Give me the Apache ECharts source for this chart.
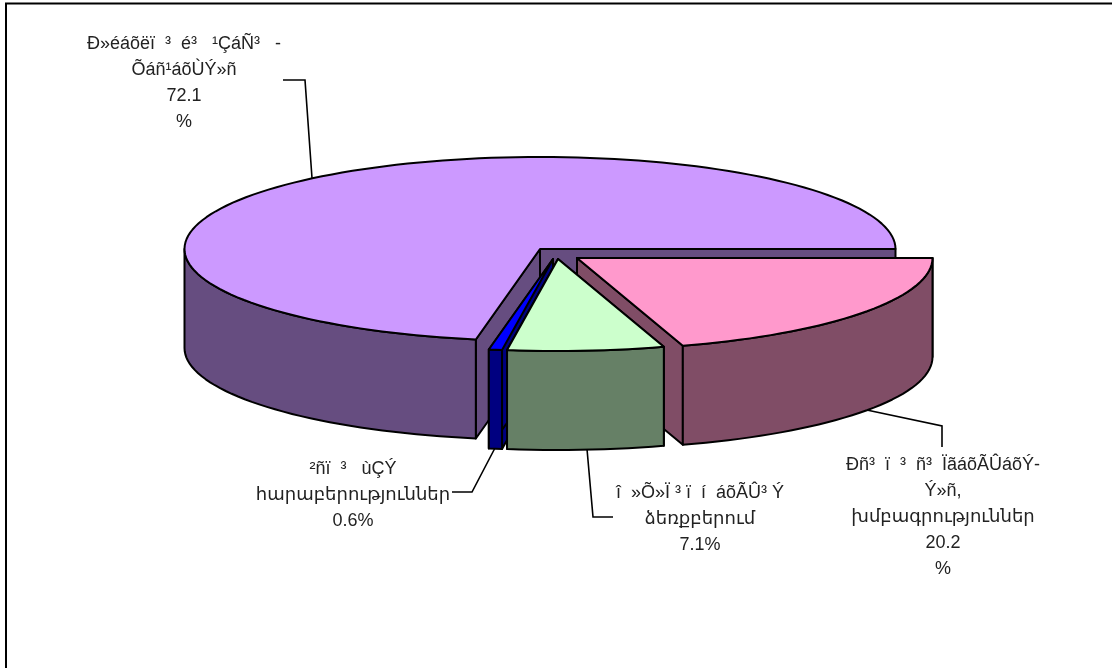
<!DOCTYPE html>
<html>
<head>
<meta charset="utf-8">
<title>pie</title>
<style>
html, body { margin: 0; padding: 0; background: #fff; }
#main { width: 1112px; height: 668px; }
</style>
<script src="https://cdn.jsdelivr.net/npm/echarts@6/dist/echarts.min.js"></script>
</head>
<body>
<div id="main"></div>
<script>
// data, slices run clockwise from the first angle
var sliceNames = ['Ð»éáõëï  ³  é³   ¹ÇáÑ³   -\nÕáñ¹áõÙÝ»ñ', 'Ðñ³  ï  ³  ñ³  ÏãáõÃÛáõÝ-\nÝ»ñ,\nխմբագրություններ', 'î  »Õ»Ï ³ ï  í  áõÃÛ³ Ý\nձեռքբերում', '²ñï  ³   ùÇÝ\nհարաբերություններ'];
var sliceValues = [72.1, 20.2, 7.1, 0.6];
var valueLabels = ['72.1\n%', '20.2\n%', '7.1%', '0.6%'];
var topColors = ['#CC99FF', '#FF99CC', '#CCFFCC', '#0000FF'];
var wallColors = ['#664D80', '#804D66', '#668066', '#000080'];
// pixel offset of each exploded slice from the pie centre
var explodeX = [0, 37, 18, 13];
var explodeY = [0, 9, 10, 10];
// back to front, the thin blue slice goes under the green one
var drawOrder = [0, 1, 3, 2];

var FONT = '"Liberation Sans", "DejaVu Sans", Arial, sans-serif';
var CX = 540, CY = 249, RX = 355.5, RY = 92, DEPTH = 99;
var FIRST_ANGLE = -259.6;

var total = sliceValues.reduce(function(a, b) { return a + b; }, 0);

function pt(cx, cy, deg, dy) {
	var r = deg * Math.PI / 180;
	return [cx + RX * Math.cos(r), cy + RY * Math.sin(r) + (dy || 0)];
}

function arc(cx, cy, a0, a1, dy) {
	var pts = [], n = Math.max(2, Math.ceil(Math.abs(a1 - a0) / 2));
	for (var i = 0; i <= n; i++) {
		pts.push(pt(cx, cy, a0 + (a1 - a0) * i / n, dy));
	}
	return pts;
}

function face(points, fill) {
	return {
		type: 'polygon',
		shape: { points: points },
		style: { fill: fill, stroke: '#000', lineWidth: 2, lineJoin: 'round' }
	};
}

function renderSlice(params, api) {
	var i = api.value(1);
	var a0 = FIRST_ANGLE, k;
	for (k = 0; k < i; k++) a0 += sliceValues[k] / total * 360;
	var a1 = a0 + api.value(0) / total * 360;
	var cx = CX + explodeX[i], cy = CY + explodeY[i];
	var wall = wallColors[i], children = [];

	// the two cut faces
	[a0, a1].forEach(function(a) {
		var p = pt(cx, cy, a);
		children.push(face([[cx, cy], p, [p[0], p[1] + DEPTH], [cx, cy + DEPTH]], wall));
	});
	// outer wall, only the part that faces the viewer
	var from = Math.max(a0, Math.floor(a1 / 360) * 360);
	var to = Math.min(a1, from + 180);
	if (i === 0) { from = a0; to = -180; }
	if (to > from) {
		children.push(face(arc(cx, cy, from, to).concat(arc(cx, cy, to, from, DEPTH)), wall));
	}
	// top surface
	children.push(face([[cx, cy]].concat(arc(cx, cy, a0, a1)), topColors[i]));
	return { type: 'group', children: children };
}

// leader lines and label places
var leaderLines = [
	[[283, 80], [305, 80], [312, 178]],
	[[862, 409], [942, 426], [942, 447]],
	[[587, 449], [593, 517], [613, 517]],
	[[495, 448], [472, 492], [452, 492]]
];
var labelPos = [[184, 31], [943, 452], [700, 480], [353, 456]];

var graphics = [{
	type: 'rect',
	shape: { x: 6, y: 3.5, width: 1200, height: 800 },
	style: { fill: 'none', stroke: '#000', lineWidth: 2 }
}];
leaderLines.forEach(function(l) {
	graphics.push({
		type: 'polyline',
		shape: { points: l },
		style: { fill: 'none', stroke: '#000', lineWidth: 1.6 }
	});
});
sliceNames.forEach(function(name, i) {
	graphics.push({
		type: 'text',
		x: labelPos[i][0],
		y: labelPos[i][1],
		style: {
			text: name + '\n' + valueLabels[i],
			fill: '#222',
			font: '18px ' + FONT,
			lineHeight: 26,
			align: 'center'
		}
	});
});

var myChart = echarts.init(document.getElementById('main'), null, { renderer: 'canvas' });
myChart.setOption({
	animation: false,
	backgroundColor: '#fff',
	series: [{
		type: 'custom',
		coordinateSystem: 'none',
		renderItem: renderSlice,
		data: drawOrder.map(function(i) { return { name: sliceNames[i], value: [sliceValues[i], i] }; })
	}],
	graphic: graphics
});
</script>
</body>
</html>
